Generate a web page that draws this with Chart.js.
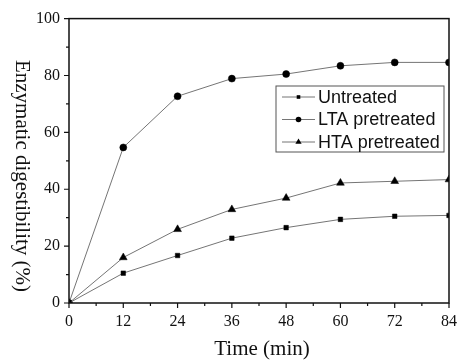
<!DOCTYPE html>
<html>
<head>
<meta charset="utf-8">
<script src="https://cdn.jsdelivr.net/npm/chart.js@4/dist/chart.umd.min.js"></script>
<style>
  html, body { margin: 0; padding: 0; background: #fff; }
  #wrap { width: 466px; height: 361px; }
</style>
</head>
<body>
<div id="wrap"><canvas id="chart" width="466" height="361"></canvas></div>
<script>
// time points (min)
const timeLabels = [0, 12, 24, 36, 48, 60, 72, 84];
// enzymatic digestibility (%)
const untreated = [0, 10.5, 16.7, 22.8, 26.5, 29.4, 30.5, 30.8];
const ltaPretreated = [0, 54.7, 72.7, 78.9, 80.5, 83.4, 84.6, 84.6];
const htaPretreated = [0, 16.0, 25.9, 32.9, 36.9, 42.2, 42.8, 43.4];
const seriesNames = ['Untreated', 'LTA pretreated', 'HTA pretreated'];
const xTitle = 'Time (min)';
const yTitle = 'Enzymatic digestibility (%)';

const serif = '"Liberation Serif", "Times New Roman", serif';
const sans = '"Liberation Sans", Arial, sans-serif';

function toPoints(values) {
    return values.map((v, i) => ({ x: timeLabels[i], y: v }));
}

function makeDataset(label, values, style) {
    return {
        label: label,
        data: toPoints(values),
        borderColor: '#757575',
        borderWidth: 1,
        pointStyle: style.shape,
        pointRadius: style.radius,
        pointBackgroundColor: '#000',
        pointBorderColor: '#000',
        pointBorderWidth: 0.5,
        tension: 0,
        fill: false
    };
}

// frame, minor ticks, axis titles and legend
const decorations = {
    id: 'decorations',
    afterDraw(chart) {
        const ctx = chart.ctx;
        const area = chart.chartArea;
        const xs = chart.scales.x;
        const ys = chart.scales.y;
        ctx.save();

        // box around the plot
        ctx.strokeStyle = '#111';
        ctx.lineWidth = 1.5;
        ctx.strokeRect(area.left, area.top, area.right - area.left, area.bottom - area.top);

        // tick marks (outside), major and minor
        ctx.lineWidth = 1.2;
        ctx.beginPath();
        for (let v = 0; v <= 84; v += 6) {
            const px = xs.getPixelForValue(v);
            const len = v % 12 === 0 ? 5 : 3;
            ctx.moveTo(px, area.bottom);
            ctx.lineTo(px, area.bottom + len);
        }
        for (let v = 0; v <= 100; v += 10) {
            const py = ys.getPixelForValue(v);
            const len = v % 20 === 0 ? 5 : 3;
            ctx.moveTo(area.left, py);
            ctx.lineTo(area.left - len, py);
        }
        ctx.stroke();

        // axis titles
        ctx.fillStyle = '#111';
        ctx.font = '21px ' + serif;
        ctx.textAlign = 'center';
        ctx.textBaseline = 'alphabetic';
        ctx.fillText(xTitle, (area.left + area.right) / 2 + 3, 355);

        ctx.save();
        ctx.translate(22, 176);
        ctx.rotate(Math.PI / 2);
        ctx.textBaseline = 'middle';
        ctx.fillText(yTitle, 0, 0);
        ctx.restore();

        // legend box
        const lx = 276, ly = 86, lw = 168, lh = 66;
        ctx.strokeStyle = '#555';
        ctx.lineWidth = 1;
        ctx.strokeRect(lx, ly, lw, lh);
        ctx.font = '18px ' + sans;
        ctx.textAlign = 'left';
        ctx.textBaseline = 'middle';
        const rows = [97, 119.5, 142];
        chart.data.datasets.forEach((ds, i) => {
            const y = rows[i];
            ctx.strokeStyle = ds.borderColor;
            ctx.lineWidth = 1;
            ctx.beginPath();
            ctx.moveTo(282, y);
            ctx.lineTo(315, y);
            ctx.stroke();
            ctx.fillStyle = '#000';
            Chart.helpers.drawPoint(ctx, {
                pointStyle: ds.pointStyle,
                radius: ds.pointRadius * 0.8,
                borderWidth: 0
            }, 298.5, y);
            ctx.fillStyle = '#111';
            ctx.fillText(seriesNames[i], 318, y + 1);
        });

        ctx.restore();
    }
};

const ctx = document.getElementById('chart').getContext('2d');
new Chart(ctx, {
    type: 'line',
    data: {
        datasets: [
            makeDataset(seriesNames[0], untreated, { shape: 'rect', radius: 3.2 }),
            makeDataset(seriesNames[1], ltaPretreated, { shape: 'circle', radius: 3.5 }),
            makeDataset(seriesNames[2], htaPretreated, { shape: 'triangle', radius: 4.5 })
        ]
    },
    options: {
        responsive: false,
        animation: false,
        layout: {
            padding: { top: 15, right: 7, left: 0, bottom: 0 }
        },
        scales: {
            x: {
                type: 'linear',
                min: 0,
                max: 84,
                afterFit: function(scale) { scale.height = 58; },
                grid: { display: false, drawTicks: false },
                border: { display: false },
                ticks: {
                    stepSize: 12,
                    padding: 9,
                    color: '#111',
                    font: { family: serif, size: 16 },
                    maxRotation: 0
                }
            },
            y: {
                min: 0,
                max: 100,
                afterFit: function(scale) { scale.width = 69; },
                grid: { display: false, drawTicks: false },
                border: { display: false },
                ticks: {
                    stepSize: 20,
                    padding: 9,
                    color: '#111',
                    font: { family: serif, size: 16 }
                }
            }
        },
        plugins: {
            legend: { display: false },
            tooltip: { enabled: false }
        }
    },
    plugins: [decorations]
});
</script>
</body>
</html>
